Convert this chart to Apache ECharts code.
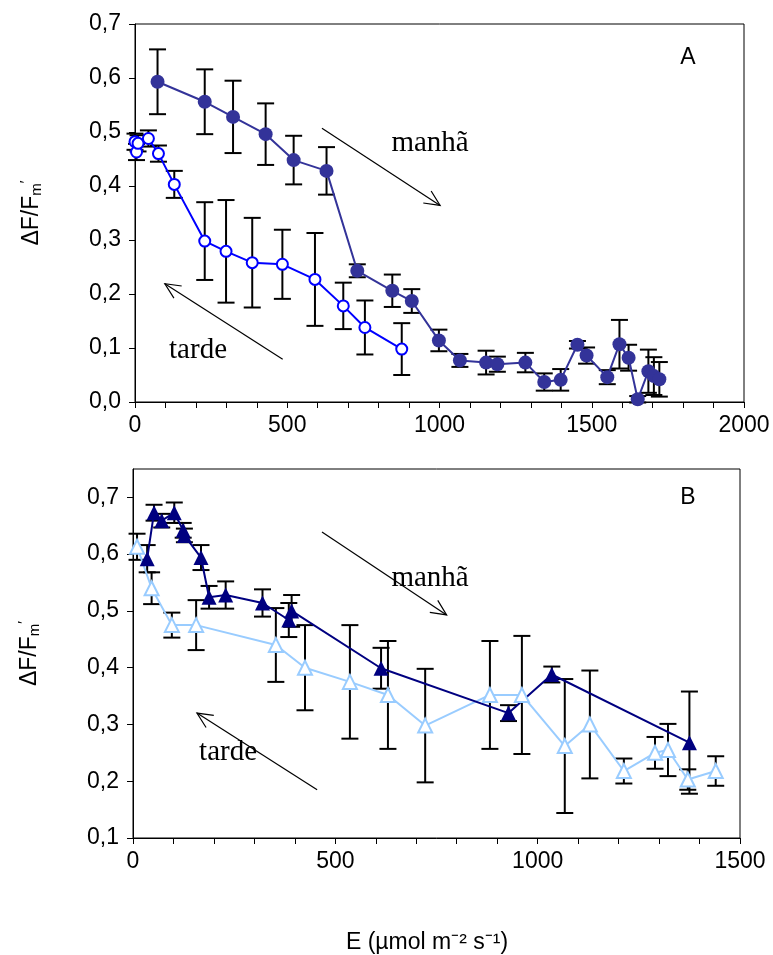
<!DOCTYPE html>
<html><head><meta charset="utf-8">
<script src="https://cdn.jsdelivr.net/npm/echarts@6/dist/echarts.min.js"></script>
<style>html,body{margin:0;padding:0;background:#fff}#c{width:773px;height:955px}</style>
</head><body><div id="c"></div>
<script>
// ---------- Panel A ----------
const aMorningE   = [74, 229, 322, 429, 521, 629, 730, 845, 909, 998, 1067, 1153, 1190, 1282, 1344, 1398, 1453, 1483, 1551, 1591, 1621, 1651, 1686, 1704, 1722];
const aMorningV   = [0.593, 0.556, 0.528, 0.496, 0.448, 0.428, 0.243, 0.206, 0.187, 0.114, 0.077, 0.073, 0.070, 0.073, 0.037, 0.041, 0.106, 0.086, 0.046, 0.107, 0.082, 0.005, 0.057, 0.048, 0.042];
const aMorningErr = [0.060, 0.060, 0.067, 0.057, 0.045, 0.044, 0.012, 0.030, 0.022, 0.020, 0.012, 0.022, 0.014, 0.018, 0.016, 0.020, 0.007, 0.015, 0.013, 0.045, 0.024, 0.006, 0.040, 0.035, 0.032];

const aAfternoonE   = [0, 5, 10, 44, 77, 129, 229, 299, 385, 484, 591, 684, 755, 876];
const aAfternoonV   = [0.482, 0.463, 0.479, 0.488, 0.460, 0.403, 0.298, 0.279, 0.258, 0.255, 0.227, 0.178, 0.138, 0.098];
const aAfternoonErr = [0.015, 0.015, 0.015, 0.015, 0.015, 0.025, 0.072, 0.095, 0.083, 0.064, 0.086, 0.043, 0.050, 0.048];

// ---------- Panel B ----------
const bMorningE   = [35, 52, 71, 102, 124, 127, 168, 188, 229, 320, 385, 392, 613, 928, 1035, 1375];
const bMorningV   = [0.592, 0.673, 0.659, 0.673, 0.642, 0.633, 0.594, 0.524, 0.528, 0.514, 0.484, 0.500, 0.399, 0.320, 0.388, 0.268];
const bMorningErr = [0.024, 0.014, 0.012, 0.018, 0.013, 0.012, 0.022, 0.020, 0.024, 0.024, 0.030, 0.028, 0.036, 0.014, 0.014, 0.090];

const bAfternoonE   = [10, 46, 96, 156, 353, 425, 536, 630, 722, 882, 961, 1067, 1129, 1213, 1290, 1322, 1371, 1440];
const bAfternoonV   = [0.613, 0.540, 0.475, 0.475, 0.440, 0.400, 0.375, 0.352, 0.298, 0.352, 0.352, 0.262, 0.300, 0.218, 0.250, 0.255, 0.203, 0.218];
const bAfternoonErr = [0.023, 0.028, 0.022, 0.044, 0.065, 0.075, 0.100, 0.095, 0.100, 0.095, 0.104, 0.118, 0.095, 0.022, 0.028, 0.046, 0.018, 0.026];

// axis ticks [min, max, interval]
const aYTicks = [0, 0.7, 0.1];
const aXTicks = [0, 2000, 500];
const bYTicks = [0.1, 0.75, 0.1];
const bXTicks = [0, 1500, 500];

// annotations in data units
const arrows = [
  {grid:0, from:[614, 0.507], to:[1002, 0.364]},
  {grid:0, from:[485, 0.079], to:[98, 0.219]},
  {grid:1, from:[467, 0.639], to:[775, 0.493]},
  {grid:1, from:[455, 0.185], to:[158, 0.320]}
];
const labels = [
  {grid:0, at:[969, 0.479], text:'manhã', serif:true},
  {grid:0, at:[207, 0.096], text:'tarde', serif:true},
  {grid:0, at:[1816, 0.637], text:'A', serif:false},
  {grid:1, at:[734, 0.558], text:'manhã', serif:true},
  {grid:1, at:[235, 0.251], text:'tarde', serif:true},
  {grid:1, at:[1371, 0.700], text:'B', serif:false}
];
const xTitle = 'E (µmol m⁻² s⁻¹)';

const FONT = 'Liberation Sans';
const comma = v => v.toFixed(1).replace('.', ',');
const plain = v => String(Math.round(v));

function xAxis(gi, t){
  return {
    type:'value', gridIndex:gi, min:t[0], max:t[1], interval:t[2],
    axisLine:{show:true, onZero:false, lineStyle:{color:'#000', width:1}},
    axisTick:{show:true, length:6, lineStyle:{color:'#000'}},
    minorTick:{show:true, splitNumber:5, length:6, lineStyle:{color:'#000'}},
    splitLine:{show:false},
    axisLabel:{color:'#000', fontSize:23, fontFamily:FONT, margin:12, formatter:plain}
  };
}
function yAxis(gi, t, showMax){
  return {
    type:'value', gridIndex:gi, min:t[0], max:t[1], interval:t[2],
    axisLine:{show:true, onZero:false, lineStyle:{color:'#000', width:1}},
    axisTick:{show:true, length:6, lineStyle:{color:'#000'}},
    splitLine:{show:false},
    axisLabel:{color:'#000', fontSize:23, fontFamily:FONT, margin:14, formatter:comma, showMaxLabel:showMax},
    name:'ΔF/F{sub|m}{sup|′}', nameLocation:'middle', nameGap:90, nameRotate:90,
    nameTextStyle:{color:'#000', fontSize:23, fontFamily:FONT,
      rich:{sub:{fontSize:15, fontFamily:FONT, color:'#000', padding:[10,0,0,0]},
            sup:{fontSize:15, fontFamily:FONT, color:'#000', padding:[0,0,12,0]}}}
  };
}

function errSeries(gi, E, V, Err){
  return {
    type:'custom', xAxisIndex:gi, yAxisIndex:gi, z:1, silent:true,
    data:E.map((e,i)=>[e, V[i]-Err[i], V[i]+Err[i]]),
    encode:{x:0, y:[1,2]},
    renderItem(params, api){
      const x = api.value(0);
      const lo = api.coord([x, api.value(1)]);
      const hi = api.coord([x, api.value(2)]);
      const w = 8.5, st = {stroke:'#000', lineWidth:2};
      return {type:'group', children:[
        {type:'line', shape:{x1:lo[0], y1:lo[1], x2:hi[0], y2:hi[1]}, style:st},
        {type:'line', shape:{x1:lo[0]-w, y1:lo[1], x2:lo[0]+w, y2:lo[1]}, style:st},
        {type:'line', shape:{x1:hi[0]-w, y1:hi[1], x2:hi[0]+w, y2:hi[1]}, style:st}
      ]};
    }
  };
}
function lineSeries(gi, E, V, color, symbol, size){
  const empty = symbol.startsWith('empty');
  return {
    type:'line', xAxisIndex:gi, yAxisIndex:gi, z:3, clip:false,
    data:E.map((e,i)=>[e, V[i]]),
    symbol:symbol, symbolSize:size, showAllSymbol:true,
    lineStyle:{color:color, width:2},
    itemStyle: empty ? {color:color, borderColor:color, borderWidth:2} : {color:color},
    emphasis:{disabled:true}, animation:false
  };
}

const chart = echarts.init(document.getElementById('c'), null, {renderer:'canvas'});
chart.setOption({
  animation:false,
  backgroundColor:'#fff',
  title:{text:xTitle, left:422, top:926, textAlign:'center',
    textStyle:{color:'#000', fontSize:23, fontWeight:'normal', fontFamily:FONT}},
  grid:[
    {left:135, top:24, width:609, height:378, show:true, borderColor:'#000', borderWidth:1, backgroundColor:'transparent'},
    {left:133, top:469, width:607, height:369, show:true, borderColor:'#000', borderWidth:1, backgroundColor:'transparent'}
  ],
  xAxis:[xAxis(0, aXTicks), xAxis(1, bXTicks)],
  yAxis:[yAxis(0, aYTicks, true), yAxis(1, bYTicks, false)],
  series:[
    errSeries(0, aAfternoonE, aAfternoonV, aAfternoonErr),
    errSeries(0, aMorningE, aMorningV, aMorningErr),
    lineSeries(0, aAfternoonE, aAfternoonV, '#0000FF', 'emptyCircle', 11),
    lineSeries(0, aMorningE, aMorningV, '#333399', 'circle', 14),
    errSeries(1, bAfternoonE, bAfternoonV, bAfternoonErr),
    errSeries(1, bMorningE, bMorningV, bMorningErr),
    lineSeries(1, bAfternoonE, bAfternoonV, '#99CCFF', 'emptyTriangle', 14),
    lineSeries(1, bMorningE, bMorningV, '#000080', 'triangle', 15)
  ]
});

// annotations (arrows and labels) placed via axis conversion
const g = [];
arrows.forEach(a=>{
  const p0 = chart.convertToPixel({gridIndex:a.grid}, a.from);
  const p1 = chart.convertToPixel({gridIndex:a.grid}, a.to);
  const dx = p1[0]-p0[0], dy = p1[1]-p0[1], L = Math.hypot(dx,dy);
  const ux = dx/L, uy = dy/L, hl = 17, ang = 25*Math.PI/180;
  const rot = (s)=>[ux*Math.cos(s)-uy*Math.sin(s), ux*Math.sin(s)+uy*Math.cos(s)];
  const r1 = rot(ang), r2 = rot(-ang);
  g.push({type:'line', shape:{x1:p0[0], y1:p0[1], x2:p1[0], y2:p1[1]}, style:{stroke:'#000', lineWidth:1.2}, z:10});
  g.push({type:'polyline', shape:{points:[[p1[0]-hl*r1[0], p1[1]-hl*r1[1]], p1, [p1[0]-hl*r2[0], p1[1]-hl*r2[1]]]},
    style:{stroke:'#000', lineWidth:1.2, fill:null}, z:10});
});
labels.forEach(l=>{
  const p = chart.convertToPixel({gridIndex:l.grid}, l.at);
  g.push({type:'text', x:p[0], y:p[1], z:10,
    style:{text:l.text, fill:'#000',
      font: l.serif ? '29px "Liberation Serif"' : '23px "Liberation Sans"',
      align:'center', verticalAlign:'middle', textAlign:'center', textVerticalAlign:'middle'}});
});
chart.setOption({graphic:g});
</script>
</body></html>
